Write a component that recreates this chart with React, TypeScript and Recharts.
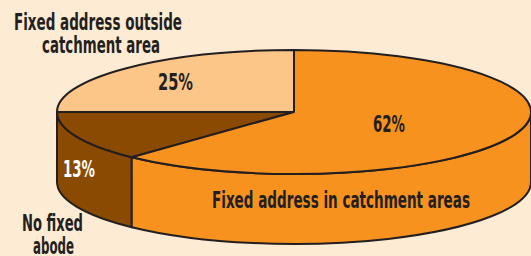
import React from 'react';
import { PieChart, Pie, Cell } from 'recharts';

// ---- data ----
const categories = ['Fixed address outside catchment area', 'No fixed abode', 'Fixed address in catchment areas'];
const shares = [25, 13, 62];
const nameLines = [['Fixed address outside', 'catchment area'], ['No fixed', 'abode'], ['Fixed address in catchment areas']];
const sliceColors = ['#FBC688', '#8A4A02', '#F7921E'];
const percentColors = ['#231F20', '#FFFFFF', '#231F20'];

// ---- layout / style ----
const W = 531;
const H = 256;
const BG = '#FDEBD4';
const INK = '#231F20';
const RX = 237;
const RATIO = 62 / 237;
const DEPTH = 70;
const FONT = '"Liberation Sans Narrow", "DejaVu Sans Condensed", Arial, sans-serif';
const FS = 23;

const data = categories.map((c, i) => ({ name: c, value: shares[i] }));

// label placement relative to the pie centre (dx, dy baselines) and widths
const pctPos = [
  { dx: -118.5, dy: -22, w: 35 },
  { dx: -215, dy: 65, w: 32 },
  { dx: 95, dy: 20, w: 32 },
];
const namePos = [
  [{ dx: -196, dy: -82, w: 168 }, { dx: -193, dy: -59, w: 118 }],
  [{ dx: -241.5, dy: 119, w: 61 }, { dx: -240.5, dy: 142, w: 41 }],
  [{ dx: 47, dy: 96, w: 258 }],
];

const RAD = Math.PI / 180;

function pt(cx: number, cy: number, rx: number, ry: number, a: number, dy = 0) {
  return [cx + rx * Math.cos(a * RAD), cy - ry * Math.sin(a * RAD) + dy];
}

function EllipseSector(props: any) {
  const { cx, cy, outerRadius, startAngle, endAngle, fill } = props;
  const rx = outerRadius;
  const ry = outerRadius * RATIO;
  const a1 = Math.min(startAngle, endAngle);
  const a2 = Math.max(startAngle, endAngle);
  const [sx, sy] = pt(cx, cy, rx, ry, a1);
  const [ex, ey] = pt(cx, cy, rx, ry, a2);
  const large = a2 - a1 > 180 ? 1 : 0;
  const top = `M${cx},${cy} L${sx},${sy} A${rx},${ry} 0 ${large} 0 ${ex},${ey} Z`;

  // side (front half: 180..360 and 540..720)
  const sides: string[] = [];
  [[180, 360], [540, 720]].forEach(([lo, hi]) => {
    const s = Math.max(a1, lo);
    const e = Math.min(a2, hi);
    if (e - s > 0.01) {
      const [x1, y1] = pt(cx, cy, rx, ry, s);
      const [x2, y2] = pt(cx, cy, rx, ry, e);
      const [x3, y3] = pt(cx, cy, rx, ry, e, DEPTH);
      const [x4, y4] = pt(cx, cy, rx, ry, s, DEPTH);
      const lg = e - s > 180 ? 1 : 0;
      sides.push(`M${x1},${y1} A${rx},${ry} 0 ${lg} 0 ${x2},${y2} L${x3},${y3} A${rx},${ry} 0 ${lg} 1 ${x4},${y4} Z`);
    }
  });

  return (
    <g>
      {sides.map((d, i) => (
        <path key={i} d={d} fill={fill} stroke={INK} strokeWidth={2} strokeLinejoin="round" />
      ))}
      <path d={top} fill={fill} stroke={INK} strokeWidth={2} strokeLinejoin="round" />
    </g>
  );
}

function renderLabel(props: any) {
  const { cx, cy, index, percent } = props;
  const p = pctPos[index];
  const pctText = `${Math.round(percent * 100)}%`;
  return (
    <g key={`lab-${index}`}>
      <text
        x={cx + p.dx}
        y={cy + p.dy}
        textAnchor="middle"
        fill={percentColors[index]}
        fontFamily={FONT}
        fontWeight="bold"
        fontSize={FS}
        textLength={p.w}
        lengthAdjust="spacingAndGlyphs"
      >
        {pctText}
      </text>
      {nameLines[index].map((line, j) => {
        const n = namePos[index][j];
        return (
          <text
            key={j}
            x={cx + n.dx}
            y={cy + n.dy}
            textAnchor="middle"
            fill={INK}
            fontFamily={FONT}
            fontWeight="bold"
            fontSize={FS}
            textLength={n.w}
            lengthAdjust="spacingAndGlyphs"
          >
            {line}
          </text>
        );
      })}
    </g>
  );
}

export default function App() {
  return (
    <div style={{ position: 'fixed', left: 0, top: 0, width: W, height: H, background: BG, overflow: 'hidden' }}>
      <PieChart width={W} height={H} margin={{ top: 0, right: 0, bottom: 0, left: 0 }}>
        <Pie
          data={data}
          dataKey="value"
          nameKey="name"
          cx={294}
          cy={112}
          outerRadius={RX}
          innerRadius={0}
          startAngle={90}
          endAngle={450}
          stroke={INK}
          isAnimationActive={false}
          labelLine={false}
          label={renderLabel}
          shape={EllipseSector}
          activeShape={EllipseSector}
          inactiveShape={EllipseSector}
          rootTabIndex={-1}
        >
          {data.map((d, i) => (
            <Cell key={d.name} fill={sliceColors[i]} />
          ))}
        </Pie>
      </PieChart>
    </div>
  );
}
